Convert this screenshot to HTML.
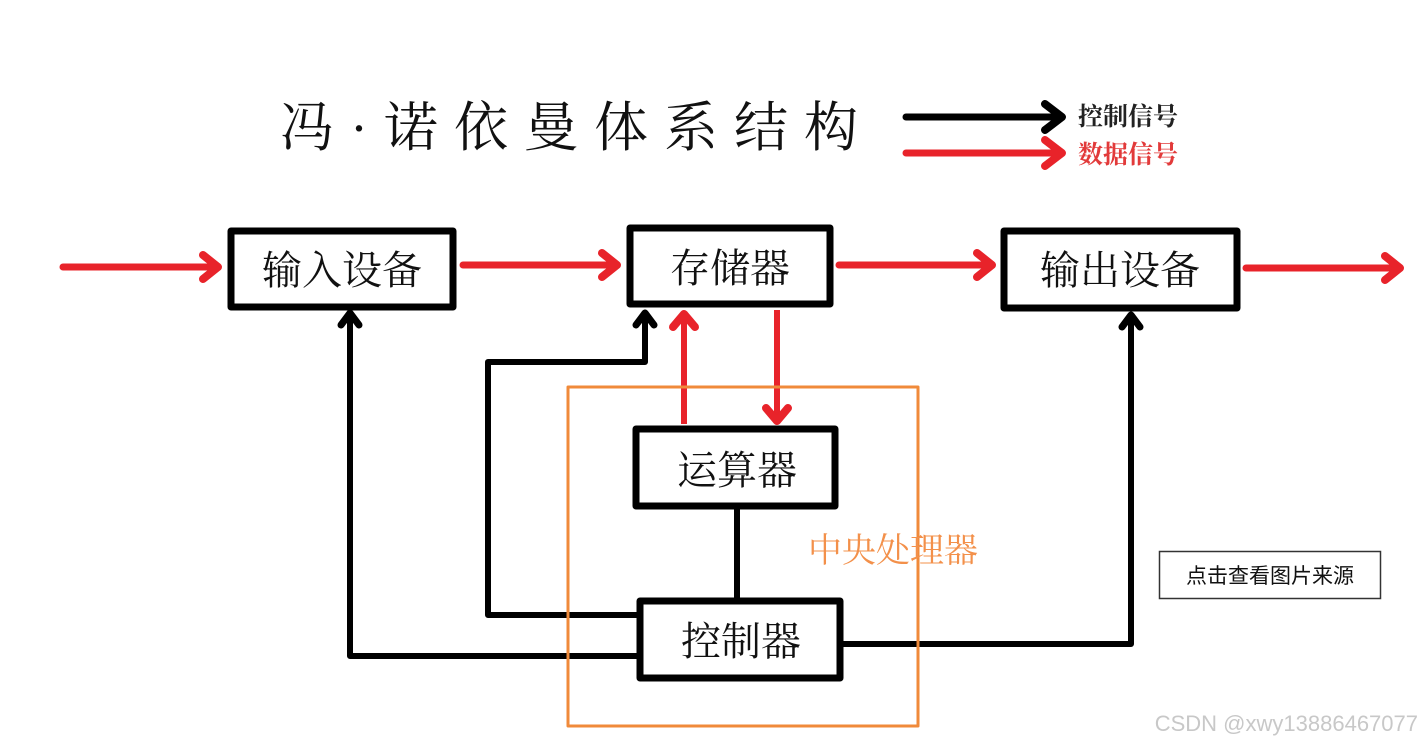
<!DOCTYPE html>
<html><head><meta charset="utf-8"><style>
html,body{margin:0;padding:0;background:#fff;}
svg{display:block;}
</style></head><body>
<svg width="1422" height="750" viewBox="0 0 1422 750" xmlns="http://www.w3.org/2000/svg">
<rect width="1422" height="750" fill="#fff"/>
<g font-family="'Liberation Serif','Noto Serif CJK SC',serif">
<text x="280" y="146" font-size="54" textLength="578" lengthAdjust="spacing" fill="#111">冯·诺依曼体系结构</text>
<text x="1078" y="125" font-size="25" font-weight="bold" fill="#222">控制信号</text>
<text x="1078" y="163" font-size="25" font-weight="bold" fill="#e23a3a">数据信号</text>
</g>
<g fill="none" stroke-linecap="round" stroke-linejoin="round">
<!-- legend -->
<line x1="906" y1="117" x2="1060" y2="117" stroke="#000" stroke-width="7"/>
<polyline points="1045,104 1062,117 1045,130" stroke="#000" stroke-width="8"/>
<line x1="906" y1="153" x2="1060" y2="153" stroke="#e8232a" stroke-width="7"/>
<polyline points="1045,140 1062,153 1045,166" stroke="#e8232a" stroke-width="8"/>
<!-- red horizontal arrows -->
<g stroke="#e8232a">
<line x1="63" y1="267" x2="218" y2="267" stroke-width="7"/>
<polyline points="203,255 218,267 203,279" stroke-width="8"/>
<line x1="463" y1="265" x2="617" y2="265" stroke-width="7"/>
<polyline points="602,253 617,265 602,277" stroke-width="8"/>
<line x1="839" y1="265" x2="992" y2="265" stroke-width="7"/>
<polyline points="977,253 992,265 977,277" stroke-width="8"/>
<line x1="1246" y1="268" x2="1400" y2="268" stroke-width="7"/>
<polyline points="1385,256 1400,268 1385,280" stroke-width="8"/>
<!-- verticals -->
<line x1="684" y1="424" x2="684" y2="314" stroke-width="6" stroke-linecap="butt"/>
<polyline points="673,327 684,314 695,327" stroke-width="8"/>
<line x1="777" y1="310" x2="777" y2="420" stroke-width="6" stroke-linecap="butt"/>
<polyline points="766,408 777,421 788,408" stroke-width="8"/>
</g>
<!-- black connectors -->
<g stroke="#000">
<line x1="737" y1="509" x2="737" y2="598" stroke-width="6" stroke-linecap="butt"/>
<polyline points="637,615 488,615 488,362 645,362 645,314" stroke-width="6"/>
<polyline points="636,325 645,313 654,325" stroke-width="7"/>
<polyline points="637,656 350,656 350,314" stroke-width="6"/>
<polyline points="341,325 350,313 359,325" stroke-width="7"/>
<polyline points="843,644 1131,644 1131,316" stroke-width="6"/>
<polyline points="1122,327 1131,315 1140,327" stroke-width="7"/>
</g>
<!-- orange CPU box -->
<rect x="568" y="387" width="350" height="339" stroke="#f08a3a" stroke-width="3"/>
<!-- boxes -->
<g stroke="#000" stroke-width="7" fill="#fff">
<rect x="231" y="231" width="222" height="76"/>
<rect x="630" y="228" width="200" height="76"/>
<rect x="1004" y="231" width="233" height="77"/>
<rect x="636" y="429" width="199" height="77"/>
<rect x="640" y="601" width="200" height="77"/>
</g>
</g>
<g font-family="'Liberation Serif','Noto Serif CJK SC',serif" font-size="40" fill="#111" text-anchor="middle">
<text x="342" y="284">输入设备</text>
<text x="730" y="282">存储器</text>
<text x="1120" y="284">输出设备</text>
<text x="737" y="484">运算器</text>
<text x="741" y="655">控制器</text>
</g>
<text x="893" y="562" font-family="'Liberation Serif','Noto Serif CJK SC',serif" font-size="34" fill="#f3904a" text-anchor="middle">中央处理器</text>
<rect x="1159.5" y="551.5" width="221" height="47" fill="#fff" stroke="#333" stroke-width="1.5"/>
<text x="1270" y="583" font-family="'Liberation Sans','Noto Sans CJK SC',sans-serif" font-size="21" fill="#111" text-anchor="middle">点击查看图片来源</text>
<text x="1418" y="731" font-family="'Liberation Sans','Noto Sans CJK SC',sans-serif" font-size="22" fill="#c8c8c8" text-anchor="end">CSDN @xwy13886467077</text>
</svg>
</body></html>
